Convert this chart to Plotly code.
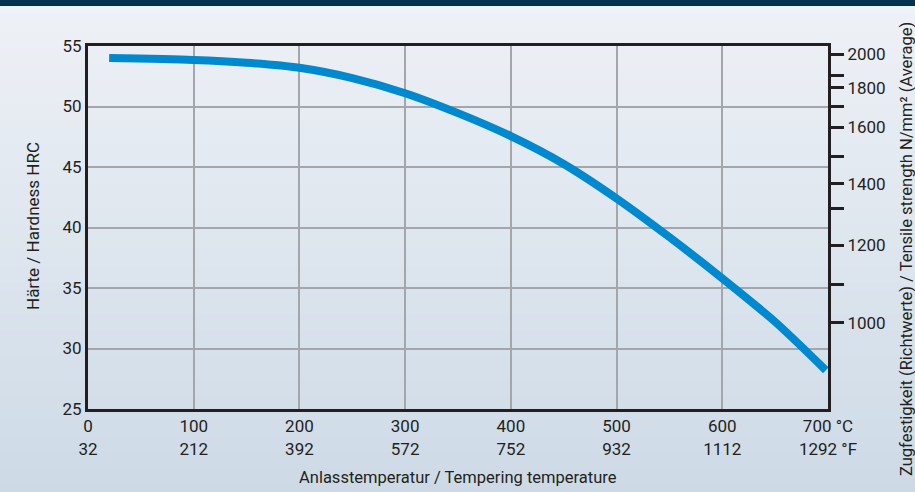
import plotly.graph_objects as go

# ---- data ----
temp_c = [20, 100, 150, 200, 250, 300, 350, 400, 450, 500, 550, 600, 650, 698]
hardness_hrc = [54.0, 53.85, 53.62, 53.2, 52.35, 51.1, 49.45, 47.55, 45.25, 42.4, 39.2, 35.8, 32.2, 28.2]

x_ticks_c = [0, 100, 200, 300, 400, 500, 600, 700]
x_ticks_f = [32, 212, 392, 572, 752, 932, 1112, 1292]

y_ticks = [25, 30, 35, 40, 45, 50, 55]

tensile_labels = ["2000", "", "1800", "", "1600", "", "1400", "", "1200", "", "1000"]
tensile_at_hrc = [54.30, 52.57, 51.55, 50.0, 48.30, 45.83, 43.63, 41.57, 38.54, 35.33, 32.14]

# ---- layout geometry ----
W, H = 915, 492
L, R, T, B = 88, 828, 46, 409
PW, PH = R - L, B - T


def xp(px):
    return (px - L) / PW


def yp(py):
    return (B - py) / PH


FONT = "Roboto, Arial, sans-serif"
TXT = "#231f20"
AX = "#231f20"

x_ticktext = []
for i, (c, f) in enumerate(zip(x_ticks_c, x_ticks_f)):
    if i == len(x_ticks_c) - 1:
        x_ticktext.append(f"{c} °C<br>{f} °F")
    else:
        x_ticktext.append(f"{c}<br>{f}")

fig = go.Figure()
fig.add_trace(go.Scatter(
    x=temp_c, y=hardness_hrc, mode="lines",
    line=dict(color="#0089cf", width=8, shape="spline", smoothing=0.8),
    hoverinfo="skip", showlegend=False,
))
# invisible trace on the secondary axis so it renders
fig.add_trace(go.Scatter(x=[0], y=[25], yaxis="y2", mode="markers",
                         marker=dict(opacity=0), hoverinfo="skip", showlegend=False))

# background gradient bands
shapes = []
top_c = (238, 241, 246)
bot_c = (205, 218, 230)
nb = 60
y_start = 6
for i in range(nb):
    py0 = y_start + (H - y_start) * i / nb
    py1 = y_start + (H - y_start) * (i + 1) / nb + 0.6
    t = (i + 0.5) / nb
    col = tuple(round(top_c[k] + (bot_c[k] - top_c[k]) * t) for k in range(3))
    shapes.append(dict(type="rect", xref="paper", yref="paper",
                       x0=xp(0), x1=xp(W), y0=yp(py1), y1=yp(py0),
                       fillcolor="rgb(%d,%d,%d)" % col, line=dict(width=0), layer="below"))
# header bar
shapes.append(dict(type="rect", xref="paper", yref="paper",
                   x0=xp(0), x1=xp(W), y0=yp(6), y1=yp(0),
                   fillcolor="#00304f", line=dict(width=0), layer="below"))

fig.update_layout(
    width=W, height=H,
    margin=dict(l=L, r=W - R, t=T, b=H - B, pad=0),
    paper_bgcolor="#e3e9f0",
    plot_bgcolor="rgba(0,0,0,0)",
    font=dict(family=FONT, size=17, color=TXT),
    shapes=shapes,
    xaxis=dict(
        range=[0, 700], tickvals=x_ticks_c, ticktext=x_ticktext,
        showgrid=True, gridcolor="#a3a6aa", gridwidth=1.5,
        showline=True, linecolor=AX, linewidth=3, mirror=True,
        ticks="", zeroline=False, tickfont=dict(size=17, color=TXT),
        fixedrange=True,
    ),
    yaxis=dict(
        range=[25, 55], tickvals=y_ticks,
        showgrid=True, gridcolor="#a3a6aa", gridwidth=1.5,
        showline=True, linecolor=AX, linewidth=3, mirror=True,
        ticks="", ticklen=0, zeroline=False, tickfont=dict(size=17, color=TXT),
        fixedrange=True,
    ),
    yaxis2=dict(
        range=[25, 55], overlaying="y", side="right",
        tickvals=tensile_at_hrc, ticktext=tensile_labels,
        ticks="outside", ticklen=15, tickwidth=3, tickcolor=AX,
        showgrid=False, zeroline=False, showline=False,
        tickfont=dict(size=17, color=TXT), fixedrange=True,
    ),
    annotations=[
        dict(text="Anlasstemperatur / Tempering temperature", xref="paper", yref="paper",
             x=xp(458), y=yp(477), xanchor="center", yanchor="middle", showarrow=False,
             font=dict(size=16.5, color=TXT)),
        dict(text="Härte / Hardness HRC", xref="paper", yref="paper",
             x=xp(33), y=yp(226), xanchor="center", yanchor="middle", showarrow=False,
             textangle=-90, font=dict(size=17, color=TXT)),
        dict(text="Zugfestigkeit (Richtwerte) / Tensile strength N/mm² (Average)",
             xref="paper", yref="paper",
             x=xp(906), y=yp(249), xanchor="center", yanchor="middle", showarrow=False,
             textangle=-90, font=dict(size=16.5, color=TXT)),
    ],
)

fig.write_html("out.html", config={"displayModeBar": False},
               post_script="document.body.style.margin='0';document.body.style.overflow='hidden';")
